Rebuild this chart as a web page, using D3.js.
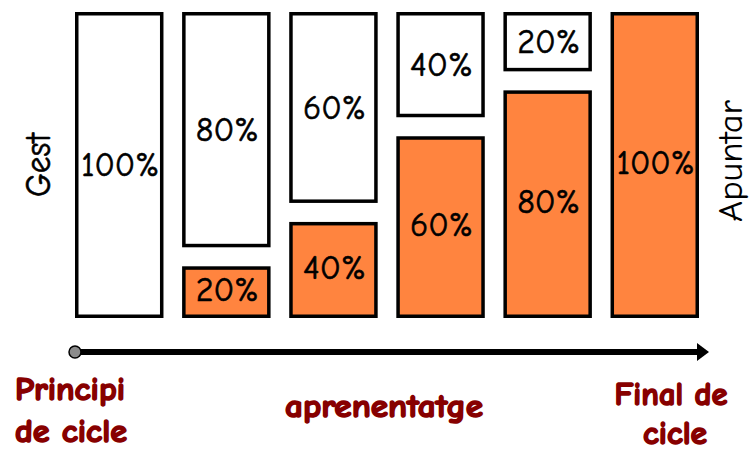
<!DOCTYPE html>
<html>
<head>
<meta charset="utf-8">
<script src="https://cdn.jsdelivr.net/npm/d3@7"></script>
<style>
  html, body { margin: 0; padding: 0; background: #fff; }
  svg { display: block; }
</style>
</head>
<body>
<svg id="chart" width="751" height="453"></svg>
<script>
// ---- data ----
const stages = ["s1", "s2", "s3", "s4", "s5", "s6"];
const apuntarPct = [0, 20, 40, 60, 80, 100];      // orange (Apuntar) labels
const gestPct = [100, 80, 60, 40, 20, 0];         // white (Gest) labels
// share of column height drawn as orange
const drawnOrangeShare = [0, 20, 34.5, 62.5, 77.5, 100];
const leftLabel = "Gest";
const rightLabel = "Apuntar";
const startLabel = ["Principi", "de cicle"];
const middleLabel = "aprenentatge";
const endLabel = ["Final de", "cicle"];

// ---- layout ----
const svg = d3.select("#chart");
const orange = "#FF843F";
const darkRed = "#870000";
const sw = 3.5;     // stroke width
const gap = 19;     // gap between white and orange boxes
const fontBody = "'Comic Sans MS', 'Comic Neue', Lato, 'Open Sans', sans-serif";

const x = d3.scaleBand().domain(stages).range([75, 699]).paddingInner(0.174).paddingOuter(0);
const y = d3.scaleLinear().domain([0, 100]).range([318, 12]);

const data = stages.map((s, i) => ({
  stage: s, ap: apuntarPct[i], ge: gestPct[i], share: drawnOrangeShare[i]
}));

const g = svg.append("g");

// white (Gest) boxes
const whites = data.filter(d => d.ge > 0);
g.selectAll("rect.gest").data(whites).enter().append("rect")
  .attr("class", "gest")
  .attr("x", d => x(d.stage) + sw / 2)
  .attr("width", x.bandwidth() - sw)
  .attr("y", y(100) + sw / 2)
  .attr("height", d => {
    const bottom = d.ap > 0 ? y(d.share) - gap / 2 : y(0);
    return bottom - y(100) - sw;
  })
  .attr("fill", "#fff").attr("stroke", "#000").attr("stroke-width", sw);

// orange (Apuntar) boxes
const oranges = data.filter(d => d.ap > 0);
g.selectAll("rect.apuntar").data(oranges).enter().append("rect")
  .attr("class", "apuntar")
  .attr("x", d => x(d.stage) + sw / 2)
  .attr("width", x.bandwidth() - sw)
  .attr("y", d => (d.ge > 0 ? y(d.share) + gap / 2 : y(100)) + sw / 2)
  .attr("height", d => y(0) - (d.ge > 0 ? y(d.share) + gap / 2 : y(100)) - sw)
  .attr("fill", orange).attr("stroke", "#000").attr("stroke-width", sw);

// labels
const pctFont = 34;
function pctText(sel) {
  sel.attr("text-anchor", "middle").attr("dominant-baseline", "middle")
    .style("font-family", fontBody).style("font-size", pctFont + "px")
    .attr("fill", "#000").attr("stroke", "#000").attr("stroke-width", 0.6);
}
g.selectAll("text.gestLbl").data(whites).enter().append("text")
  .attr("x", d => x(d.stage) + x.bandwidth() / 2 + 1)
  .attr("y", d => {
    const bottom = d.ap > 0 ? y(d.share) - gap / 2 : y(0);
    return (y(100) + bottom) / 2 + 3;
  })
  .call(pctText)
  .attr("textLength", d => d.ge === 100 ? 78 : 63).attr("lengthAdjust", "spacingAndGlyphs")
  .text(d => d.ge + "%");

g.selectAll("text.apLbl").data(oranges).enter().append("text")
  .attr("x", d => x(d.stage) + x.bandwidth() / 2 + 1)
  .attr("y", d => {
    const top = d.ge > 0 ? y(d.share) + gap / 2 : y(100);
    return (top + y(0)) / 2 + 1;
  })
  .call(pctText)
  .attr("textLength", d => d.ap === 100 ? 78 : 63).attr("lengthAdjust", "spacingAndGlyphs")
  .text(d => d.ap + "%");

// side labels
svg.append("text")
  .attr("transform", "translate(50,165) rotate(-90)")
  .attr("text-anchor", "middle")
  .style("font-family", fontBody).style("font-size", "37px")
  .attr("stroke", "#000").attr("stroke-width", 0.6)
  .attr("textLength", 64).attr("lengthAdjust", "spacingAndGlyphs")
  .text(leftLabel);

svg.append("text")
  .attr("transform", "translate(742,161) rotate(-90)")
  .attr("text-anchor", "middle")
  .style("font-family", fontBody).style("font-size", "34px")
  .attr("textLength", 122).attr("lengthAdjust", "spacingAndGlyphs")
  .text(rightLabel);

// arrow axis
svg.append("defs").append("marker")
  .attr("id", "head").attr("markerUnits", "userSpaceOnUse")
  .attr("viewBox", "0 0 12 18").attr("refX", 0).attr("refY", 9)
  .attr("markerWidth", 12).attr("markerHeight", 18).attr("orient", "auto")
  .append("path").attr("d", "M0,0 L12,9 L0,18 Z").attr("fill", "#000");

svg.append("line")
  .attr("x1", 75).attr("x2", 697).attr("y1", 352).attr("y2", 352)
  .attr("stroke", "#000").attr("stroke-width", 6)
  .attr("marker-end", "url(#head)");
svg.append("circle").attr("cx", 75).attr("cy", 352).attr("r", 6)
  .attr("fill", "#8c8c8c").attr("stroke", "#000").attr("stroke-width", 1.5);

// bottom labels
function label(txt, cx, by, len) {
  svg.append("text")
    .attr("x", cx).attr("y", by)
    .attr("text-anchor", "middle")
    .style("font-family", fontBody).style("font-size", "33px").style("font-weight", "bold")
    .attr("fill", darkRed).attr("stroke", darkRed).attr("stroke-width", 1.6)
    .attr("stroke-linejoin", "round")
    .attr("textLength", len).attr("lengthAdjust", "spacingAndGlyphs")
    .text(txt);
}
label(startLabel[0], 70, 400, 110);
label(startLabel[1], 71, 442, 112);
label(middleLabel, 384, 417, 198);
label(endLabel[0], 671, 405, 113);
label(endLabel[1], 675, 444, 64);
</script>
</body>
</html>
